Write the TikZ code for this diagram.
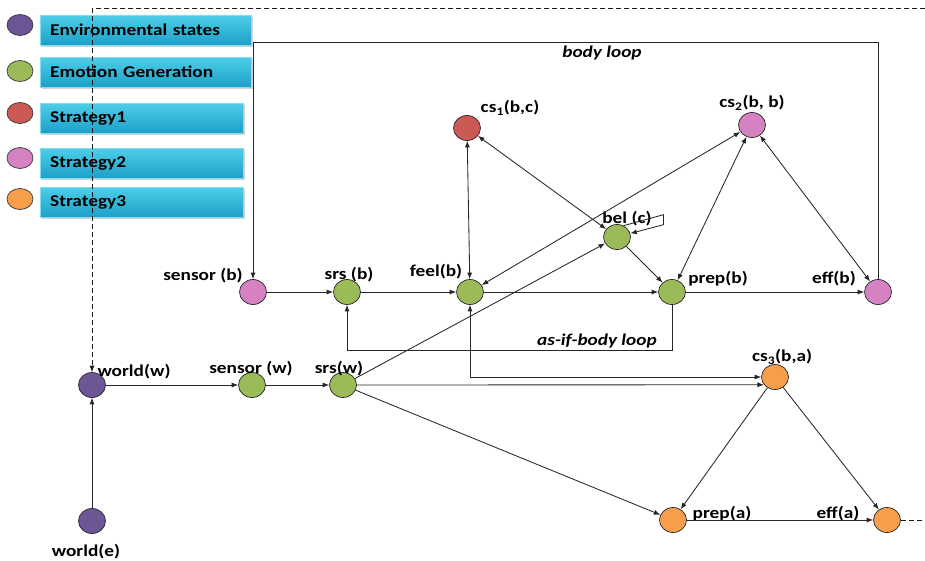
\documentclass[tikz,border=0pt]{standalone}
\usepackage{fontspec}
\setmainfont{Carlito}[FakeStretch=1.17]
\usetikzlibrary{arrows.meta,shadows,shapes.geometric}

\definecolor{envcol}{RGB}{108,86,150}
\definecolor{gencol}{RGB}{155,187,89}
\definecolor{sonecol}{RGB}{204,90,84}
\definecolor{stwocol}{RGB}{214,130,194}
\definecolor{sthreecol}{RGB}{246,158,74}
\definecolor{keytop}{RGB}{78,206,232}
\definecolor{keybot}{RGB}{28,160,200}

\tikzset{
  st/.style={ellipse, draw=black!85, line width=0.7pt, minimum width=27pt, minimum height=25pt, inner sep=0pt},
  lbl/.style={font=\bfseries\fontsize{16.5}{18}\selectfont, inner sep=0pt},
  con/.style={-{Latex[length=6.5pt,width=5pt]}, black!85, line width=0.85pt},
  bicon/.style={{Latex[length=6.5pt,width=5pt]}-{Latex[length=6.5pt,width=5pt]}, black!85, line width=0.85pt},
  dashcon/.style={dash pattern=on 5pt off 3pt, black!90, line width=0.9pt},
  keybox/.style={anchor=west, top color=keytop, bottom color=keybot, draw=keytop!70!white,
    minimum height=30pt, inner xsep=10pt, align=left, font=\bfseries\fontsize{16.5}{18}\selectfont,
    drop shadow={opacity=0.35, shadow xshift=1.5pt, shadow yshift=-2pt}},
  keydot/.style={ellipse, draw=black!80, line width=0.7pt, minimum width=26pt, minimum height=21pt, inner sep=0pt}
}

\begin{document}
\begin{tikzpicture}[x=1pt, y=-1pt]
  \useasboundingbox (0,0) rectangle (925,560);

  % legend
  \node[keybox, text width=191pt] (kenv) at (40,30) {Environmental states};
  \node[keybox, text width=191pt] (kgen) at (40,72) {Emotion Generation};
  \node[keybox, text width=183pt] (kone) at (40,118) {Strategy1};
  \node[keybox, text width=183pt] (ktwo) at (40,163) {Strategy2};
  \node[keybox, text width=183pt] (kthree) at (40,202) {Strategy3};
  \node[keydot, fill=envcol] (denv) at (20,25) {};
  \node[keydot, fill=gencol] (dgen) at (20,71) {};
  \node[keydot, fill=sonecol] (done) at (20,113) {};
  \node[keydot, fill=stwocol] (dtwo) at (20,158) {};
  \node[keydot, fill=sthreecol] (dthree) at (20,199) {};

  % states
  \node[st, fill=envcol] (worlde) at (92,521) {};
  \node[st, fill=envcol] (worldw) at (92,385) {};
  \node[st, fill=gencol] (sensorw) at (252,385) {};
  \node[st, fill=gencol] (srsw) at (343,385) {};
  \node[st, fill=stwocol] (sensorb) at (253,292) {};
  \node[st, fill=gencol] (srsb) at (347,292) {};
  \node[st, fill=gencol] (feelb) at (470,292) {};
  \node[st, fill=gencol] (belc) at (617,237) {};
  \node[st, fill=gencol] (prepb) at (672,292) {};
  \node[st, fill=stwocol] (effb) at (878,292) {};
  \node[st, fill=sonecol] (csone) at (467,128) {};
  \node[st, fill=stwocol] (cstwo) at (752,125) {};
  \node[st, fill=sthreecol] (csthree) at (775,377) {};
  \node[st, fill=sthreecol] (prepa) at (673,520) {};
  \node[st, fill=sthreecol] (effa) at (887,520) {};

  % labels
  \node[lbl] (lworlde) at (86,552) {world(e)};
  \node[lbl] (lworldw) at (134,372) {world(w)};
  \node[lbl] (lsensorw) at (251,369) {sensor (w)};
  \node[lbl] (lsrsw) at (339,369) {srs(w)};
  \node[lbl] (lsensorb) at (203,276) {sensor (b)};
  \node[lbl] (lsrsb) at (349,275) {srs (b)};
  \node[lbl] (lfeelb) at (436,272) {feel(b)};
  \node[lbl] (lbelc) at (627,219) {bel (c)};
  \node[lbl] (lprepb) at (718,279) {prep(b)};
  \node[lbl] (leffb) at (834,279) {eff(b)};
  \node[lbl] (lcsone) at (510,108) {cs\textsubscript{1}(b,c)};
  \node[lbl] (lcstwo) at (752,103) {cs\textsubscript{2}(b, b)};
  \node[lbl] (lcsthree) at (782,357) {cs\textsubscript{3}(b,a)};
  \node[lbl] (lprepa) at (722,514) {prep(a)};
  \node[lbl] (leffa) at (838,514) {eff(a)};
  \node[lbl, font=\bfseries\itshape\fontsize{16.5}{18}\selectfont] (lbody) at (602,53) {body loop};
  \node[lbl, font=\bfseries\itshape\fontsize{16.5}{18}\selectfont] (lasif) at (597,341) {as-if-body loop};

  % free ends
  \coordinate (dright) at (925,8);
  \coordinate (dtop) at (92,8);
  \coordinate (dout) at (925,520);
  \coordinate (bodytop) at (0,42);
  \coordinate (asifbot) at (0,350);

  % dashed world input and output
  \draw[dashcon] (dright) -- (dtop);
  \draw[dashcon, -{Latex[length=6.5pt,width=5pt]}] (dtop) -- (worldw);
  \draw[dashcon] (effa) -- (dout);

  % world side
  \draw[con] (worlde) -- (worldw);
  \draw[con] (worldw) -- (sensorw);
  \draw[con] (sensorw) -- (srsw);
  \draw[con] (srsw) -- (belc);
  \draw[con] (srsw) -- (prepa);
  \draw[con] (srsw.east) -- (csthree.215);

  % body side
  \draw[con] (sensorb) -- (srsb);
  \draw[con] (srsb) -- (feelb);
  \draw[con] (feelb) -- (prepb);
  \draw[con] (prepb) -- (effb);
  \draw[con] (belc) -- (prepb);
  \draw[con] (belc.60) -- ++(40,-11) -- ++(0,10) -- (belc.15);
  \draw[bicon] (feelb) -- (csone);
  \draw[bicon] (csone) -- (belc);
  \draw[bicon] (feelb) -- (cstwo);
  \draw[bicon] (prepb) -- (cstwo);
  \draw[bicon] (cstwo) -- (effb);
  \draw[bicon] (feelb.south) |- (csthree.west);

  % loops
  \draw[con] (effb.north) -- (effb.north |- bodytop) -| (sensorb.north);
  \draw[con] (prepb.south) -- (prepb.south |- asifbot) -| (srsb.south);

  % strategy 3
  \draw[con] (csthree) -- (prepa);
  \draw[con] (csthree) -- (effa);
  \draw[con] (prepa) -- (effa);
\end{tikzpicture}
\end{document}
